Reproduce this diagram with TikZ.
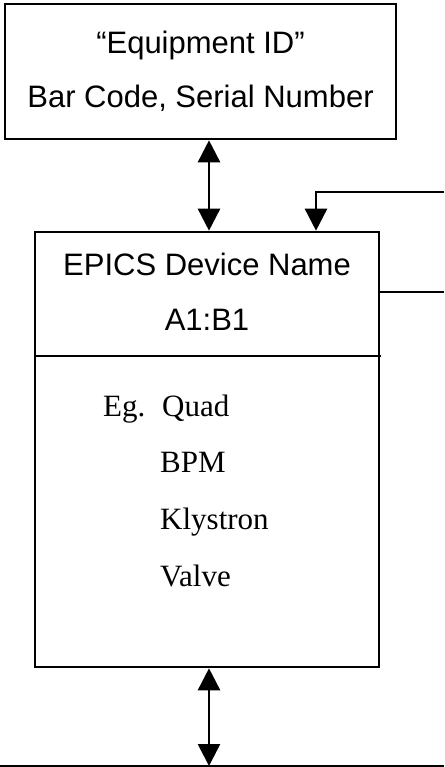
\documentclass[tikz,border=0pt]{standalone}
\usepackage{fontspec}
\setmainfont{Liberation Serif}
\setsansfont{Liberation Sans}
\usetikzlibrary{arrows.meta,positioning,calc}

\begin{document}
\begin{tikzpicture}[
    x=1pt, y=-1pt,
    box/.style={rectangle, draw, line width=2.6pt, inner sep=0pt},
    sanstext/.style={anchor=base, inner sep=0pt, font=\fontsize{31}{36}\selectfont\sffamily},
    itemtext/.style={anchor=base west, inner sep=0pt, font=\fontsize{31}{36}\selectfont\rmfamily},
    wire/.style={line width=2.6pt},
    arrow/.style={-{Triangle[width=22pt,length=22pt]}, line width=2.6pt},
    biarrow/.style={{Triangle[width=22pt,length=22pt]}-{Triangle[width=22pt,length=22pt]}, line width=2.6pt}
]
\useasboundingbox (0,0) rectangle (444,767);

% boxes
\node[box, minimum width=391pt, minimum height=135pt] (equip) at (200.5,71.5) {};
\node[box, minimum width=344pt, minimum height=435pt] (dev) at (207,449.5) {};

% texts
\node[sanstext] (equipid) at (200.5,54) {“Equipment ID”};
\node[sanstext] (barcode) at (200.5,108) {Bar Code, Serial Number};
\node[sanstext] (devname) at (207,275) {EPICS Device Name};
\node[sanstext] (devaddr) at (207,330) {A1:B1};

\node[itemtext] (eg) at (103,416) {Eg.};
\node[itemtext] (quad) at (162,416) {Quad};
\foreach \name [count=\i] in {BPM,Klystron,Valve}
    \node[itemtext] (item\i) at (160,416+56.7*\i) {\name};

% divider
\coordinate (sep) at (381,356);
\draw[wire] (dev.west |- sep) -- (sep);

% links
\coordinate (linkx) at (209,0);
\coordinate (fbx) at (316,0);
\coordinate (fbin) at (444,192);
\coordinate (fbout) at (444,292);
\coordinate (busl) at (0,766);
\coordinate (busr) at (444,766);

\draw[biarrow] (equip.south -| linkx) -- (dev.north -| linkx);
\draw[arrow] (fbin) -| (dev.north -| fbx);
\draw[wire] (dev.east |- fbout) -- (fbout);
\draw[biarrow] (dev.south -| linkx) -- (linkx |- busl);
\draw[wire] (busl) -- (busr);
\end{tikzpicture}
\end{document}
